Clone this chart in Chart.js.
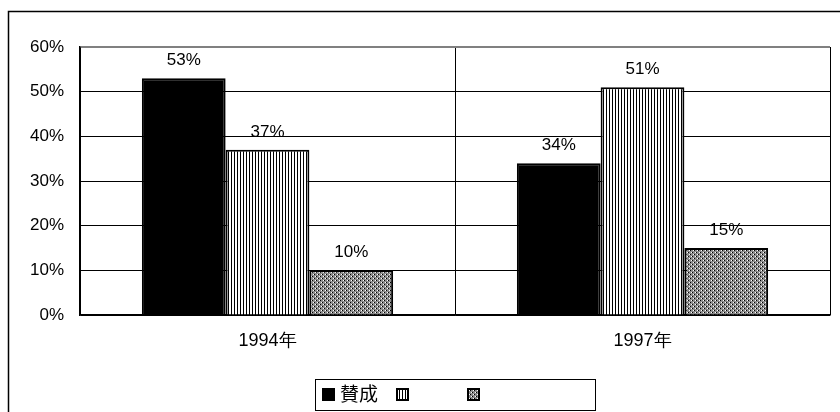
<!DOCTYPE html>
<html>
<head>
<meta charset="utf-8">
<script src="https://cdn.jsdelivr.net/npm/chart.js@4"></script>
<style>
  html, body { margin: 0; padding: 0; background: #fff; }
  #wrap { width: 840px; height: 412px; position: relative; }
</style>
</head>
<body>
<div id="wrap"><canvas id="chart" width="840" height="412"></canvas></div>
<script>
const categories = ['1994年', '1997年'];
const seriesLabels = ['賛成', '', ''];
const series1 = [53, 34];
const series2 = [37, 51];
const series3 = [10, 15];
const yTicks = [0, 10, 20, 30, 40, 50, 60];

const FONT = '"Liberation Sans", Arial, sans-serif';

// vertical hairline stripes
function stripePattern(ctx) {
    const c = document.createElement('canvas');
    c.width = 3; c.height = 4;
    const g = c.getContext('2d');
    g.fillStyle = '#fff';
    g.fillRect(0, 0, 3, 4);
    g.fillStyle = '#000';
    g.fillRect(0, 0, 1, 4);
    return ctx.createPattern(c, 'repeat');
}

// dithered grey checker
function checkerPattern(ctx) {
    const c = document.createElement('canvas');
    c.width = 4; c.height = 4;
    const g = c.getContext('2d');
    g.fillStyle = '#8c8c8c';
    g.fillRect(0, 0, 4, 4);
    g.fillStyle = '#000';
    g.fillRect(0, 0, 1, 1);
    g.fillRect(2, 2, 1, 1);
    g.fillStyle = '#fff';
    g.fillRect(1, 2, 1, 1);
    g.fillRect(3, 0, 1, 1);
    return ctx.createPattern(c, 'repeat');
}

const canvas = document.getElementById('chart');
const ctx = canvas.getContext('2d');
const fills = ['#000', stripePattern(ctx), checkerPattern(ctx)];

const frame = {
    id: 'frame',
    beforeDraw(chart) {
        const c = chart.ctx;
        c.save();
        c.strokeStyle = '#000';
        c.lineWidth = 1.5;
        c.strokeRect(8.5, 11.5, 900, 500);
        c.restore();
    }
};

const valueLabels = {
    id: 'valueLabels',
    afterDatasetsDraw(chart) {
        const c = chart.ctx;
        c.save();
        c.font = '17px ' + FONT;
        c.fillStyle = '#000';
        c.textAlign = 'center';
        c.textBaseline = 'alphabetic';
        chart.data.datasets.forEach((ds, i) => {
            chart.getDatasetMeta(i).data.forEach((bar, j) => {
                c.fillText(ds.data[j] + '%', bar.x, bar.y - 13);
            });
        });
        c.restore();
    }
};

const boxLegend = {
    id: 'boxLegend',
    afterDraw(chart) {
        const c = chart.ctx;
        c.save();
        c.strokeStyle = '#000';
        c.lineWidth = 1;
        c.strokeRect(315.5, 379.5, 280, 31);
        const xs = [322, 396, 467];
        chart.data.datasets.forEach((ds, i) => {
            const x = xs[i], y = 388;
            c.fillStyle = ds.backgroundColor;
            c.fillRect(x, y, 13, 13);
            c.strokeStyle = '#000';
            c.lineWidth = 2;
            c.strokeRect(x + 1, y + 1, 11, 11);
            if (ds.label) {
                c.fillStyle = '#000';
                c.font = '19px "Noto Sans CJK JP", sans-serif';
                c.textBaseline = 'middle';
                c.textAlign = 'left';
                c.fillText(ds.label, x + 18, y + 6);
            }
        });
        c.restore();
    }
};

new Chart(ctx, {
    type: 'bar',
    data: {
        labels: categories,
        datasets: [series1, series2, series3].map((d, i) => ({
            label: seriesLabels[i],
            data: d,
            backgroundColor: fills[i],
            borderColor: '#000',
            borderWidth: 2,
            borderSkipped: 'start',
            barPercentage: 1,
            categoryPercentage: 0.67
        }))
    },
    options: {
        responsive: false,
        animation: false,
        layout: { padding: { top: 47, right: 10, left: 0, bottom: 0 } },
        plugins: {
            legend: { display: false },
            tooltip: { enabled: false }
        },
        scales: {
            x: {
                offset: true,
                afterFit(scale) { scale.height = 97; },
                grid: {
                    offset: true,
                    drawTicks: false,
                    color: c => c.index === 2 ? '#808080' : '#000',
                    lineWidth: c => c.index === 2 ? 2 : 1
                },
                border: { color: '#000', width: 1.5 },
                ticks: {
                    color: '#000',
                    font: { family: FONT, size: 18 },
                    padding: 15
                }
            },
            y: {
                min: yTicks[0],
                max: yTicks[yTicks.length - 1],
                afterFit(scale) { scale.width = 80; },
                afterBuildTicks(scale) { scale.ticks = yTicks.map(v => ({ value: v })); },
                grid: {
                    drawTicks: false,
                    color: c => c.tick && c.tick.value === 60 ? '#808080' : '#000',
                    lineWidth: c => c.tick && c.tick.value === 60 ? 2 : 1
                },
                border: { color: '#000', width: 1.5 },
                ticks: {
                    color: '#000',
                    font: { family: FONT, size: 17 },
                    padding: 16,
                    callback: v => v + '%'
                }
            }
        }
    },
    plugins: [frame, valueLabels, boxLegend]
});
</script>
</body>
</html>
